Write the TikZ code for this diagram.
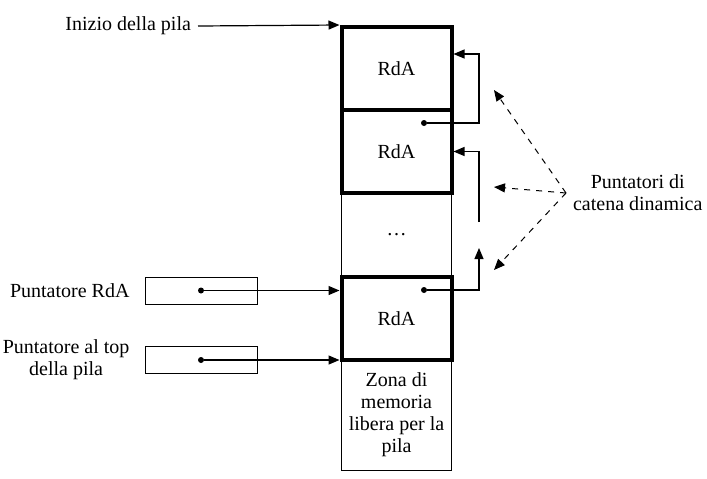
\documentclass[tikz,border=0pt]{standalone}
\usepackage{fontspec}
\setmainfont{Liberation Serif}
\usetikzlibrary{arrows.meta,positioning}

\begin{document}
\begin{tikzpicture}[x=0.5pt,y=-0.5pt,font=\fontsize{10}{11}\selectfont,>={Triangle[length=5.5pt,width=4.5pt]}]
  \tikzset{
    rda/.style={draw,line width=2pt,minimum width=55pt,minimum height=41.5pt,inner sep=0pt},
    zona/.style={draw,line width=0.5pt,minimum width=55pt,inner sep=0pt,align=center},
    cella/.style={draw,line width=0.5pt,minimum width=56pt,minimum height=13.5pt,inner sep=0pt},
    punto/.style={circle,fill,inner sep=0pt,minimum size=3pt},
    collega/.style={->,line width=0.6pt},
    catena/.style={->,dashed,line width=0.5pt}
  }
  \useasboundingbox (0,0) rectangle (707,478);
  % colonna della pila
  \node[zona,minimum height=42.5pt] (salto) at (396.5,234.5) {\dots};
  \node[zona,minimum height=55pt] (libera) at (396.5,415) {Zona di\\memoria\\libera per la\\pila};
  \node[rda] (rda1) at (396.5,68.5) {RdA};
  \node[rda] (rda2) at (396.5,151.5) {RdA};
  \node[rda] (rda3) at (396.5,318.5) {RdA};
  % puntatori
  \node[cella] (ptrda) at (201,290.5) {};
  \node[cella] (pttop) at (201,360) {};
  \node[left=4pt of ptrda] (lrda) {Puntatore RdA};
  \node[left=4pt of pttop,align=center] (ltop) {Puntatore al top\\della pila};
  \node[anchor=east] (inizio) at (198,26) {Inizio della pila};
  \node[punto] (d1) at (ptrda.center) {};
  \node[punto] (d2) at (pttop.center) {};
  \draw[collega] (inizio.east) -- (rda1.north west);
  \draw[collega] (d1) -- (d1 -| rda3.west);
  \draw[collega] (d2) -- (d2 -| rda3.west);
  % catena dinamica
  \node[punto] (c2) at (424,123) {};
  \node[punto] (c3) at (424,290) {};
  \coordinate (e1) at (rda1.east |- 0,54);
  \coordinate (f2) at (479,222);
  \coordinate (f3) at (479,248);
  \draw[collega] (c2) -- (479,123) |- (e1);
  \draw[collega] (f2) |- (rda2.east);
  \draw[collega] (c3) -| (f3);
  \node[align=center,anchor=west] (cat) at (566,193) {Puntatori di\\catena dinamica};
  \coordinate (t1) at (494,90);
  \coordinate (t2) at (494,187);
  \coordinate (t3) at (494,270);
  \draw[catena] (cat.west) -- (t1);
  \draw[catena] (cat.west) -- (t2);
  \draw[catena] (cat.west) -- (t3);
\end{tikzpicture}
\end{document}
